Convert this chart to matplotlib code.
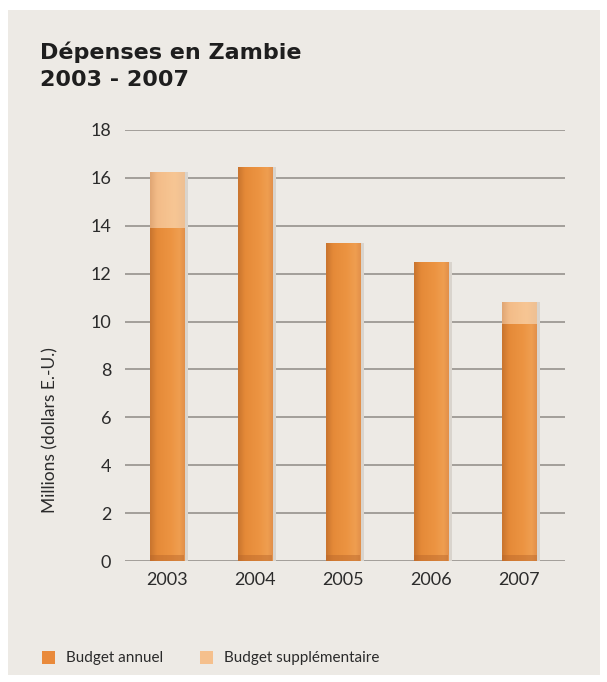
import matplotlib.pyplot as plt
from matplotlib.patches import Rectangle
from matplotlib.colors import LinearSegmentedColormap
import numpy as np

# ----------------------------
# Data (millions USD)
# ----------------------------
years = ["2003", "2004", "2005", "2006", "2007"]
budget_annuel = [13.9, 16.45, 13.3, 12.5, 9.9]
budget_supp = [2.35, 0.0, 0.0, 0.0, 0.9]
y_ticks = [0, 2, 4, 6, 8, 10, 12, 14, 16, 18]

c_annuel = "#E98A3B"
c_supp = "#F5C08D"

plt.rcParams["font.family"] = ["Lato", "DejaVu Sans"]

fig = plt.figure(figsize=(6.07, 6.82), dpi=100, facecolor="white")

# paper-like background panel
fig.patches.append(
    Rectangle((8 / 607, 7 / 682), 592 / 607, 665 / 682, transform=fig.transFigure,
              facecolor="#EDEAE5", edgecolor="none", zorder=-10)
)

ax = fig.add_axes([0.206, 0.1774, 0.725, 0.632])
ax.set_facecolor("none")
ax.set_zorder(2)

x = np.arange(len(years))
w = 0.39

# soft shadow on the right
tot = np.array(budget_annuel) + np.array(budget_supp)
ax.bar(x + 0.035, tot, width=w, color="#D9D4CD", zorder=2)

bars_a = ax.bar(x, budget_annuel, width=w, color=c_annuel, zorder=3)
bars_s = ax.bar(x, budget_supp, width=w, bottom=budget_annuel, color=c_supp, zorder=3)

# gradient fill inside each bar: darker left edge, lighter right
cmap_a = LinearSegmentedColormap.from_list(
    "a", [(0, "#C9742E"), (0.2, "#E58A38"), (0.6, "#EC9442"), (0.85, "#EF9E50"), (1, "#E2904A")])
cmap_s = LinearSegmentedColormap.from_list(
    "s", [(0, "#E0A674"), (0.2, "#F3BC88"), (0.7, "#F7C694"), (1, "#EEC093")])
grad = np.linspace(0, 1, 64).reshape(1, -1)
for bars, cmap in [(bars_a, cmap_a), (bars_s, cmap_s)]:
    for r in bars:
        if r.get_height() <= 0:
            continue
        x0, y0 = r.get_x(), r.get_y()
        im = ax.imshow(grad, cmap=cmap, aspect="auto", zorder=4, interpolation="bicubic",
                       extent=[x0, x0 + r.get_width(), y0, y0 + r.get_height()])
        im.set_clip_path(r)

# darker foot at the bottom of each bar
ax.bar(x, [0.25] * len(x), width=w, color="#B8652A", alpha=0.45, zorder=5, linewidth=0)

ax.set_ylim(0, 18)
ax.set_xlim(-0.48, 4.52)
ax.set_yticks(y_ticks)
ax.set_xticks(x)
ax.set_xticklabels(years)
ax.yaxis.grid(True, color="#A29E99", linewidth=1.4, zorder=1)
ax.set_axisbelow(True)
for s in ax.spines.values():
    s.set_visible(False)
ax.tick_params(length=0, labelsize=13, colors="#2B2B2B")
ax.tick_params(axis="y", pad=10)
ax.tick_params(axis="x", pad=8)

fig.text(50 / 607, 1 - 430 / 682, "Millions (dollars E.-U.)", rotation=90,
         ha="center", va="center", fontsize=12.5, color="#2B2B2B")

fig.text(40 / 607, 1 - 66 / 682, "Dépenses en Zambie\n2003 - 2007", ha="left", va="center",
         fontsize=16, fontweight="bold", color="#1E1E1E", linespacing=1.45,
         family=["DejaVu Sans"])

# legend
for lx, col, label in [(42, c_annuel, "Budget annuel"), (200, c_supp, "Budget supplémentaire")]:
    fig.patches.append(
        Rectangle((lx / 607, 1 - 664 / 682), 13 / 607, 13 / 682, transform=fig.transFigure,
                  facecolor=col, edgecolor="none", zorder=3)
    )
    fig.text((lx + 24) / 607, 1 - 658 / 682, label, ha="left", va="center",
             fontsize=11, color="#2B2B2B")

plt.savefig("out.png", dpi=100, facecolor="white")
